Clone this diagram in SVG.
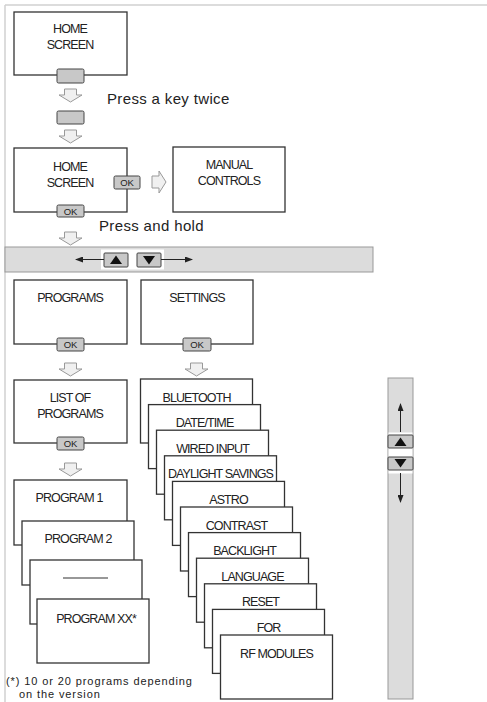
<svg xmlns="http://www.w3.org/2000/svg" width="487" height="702" viewBox="0 0 487 702">
<style>
.box{fill:#fff;stroke:#333;stroke-width:1.3}
.bt{font-family:"Liberation Sans",Arial,sans-serif;font-size:12.5px;letter-spacing:-0.9px;fill:#222;text-anchor:middle}
.body{font-family:"Liberation Sans",Arial,sans-serif;font-size:15px;letter-spacing:0.35px;fill:#222}
.note{font-family:"Liberation Sans",Arial,sans-serif;font-size:11px;letter-spacing:0.9px;fill:#222}
.key{fill:#c8c8c8;stroke:#444;stroke-width:1}
.ok{font-family:"Liberation Sans",Arial,sans-serif;font-size:9.5px;fill:#222;text-anchor:middle}
.arr{fill:#f0f0f0;stroke:#999;stroke-width:1}
.bar{fill:#dcdcdc;stroke:#999;stroke-width:1}
.ln{stroke:#222;stroke-width:1;fill:none}
</style>
<defs>
<path id="dn" d="M-6,0 H6 V6 H11.5 L0,13 L-11.5,6 H-6 Z"/>
<marker id="ah" viewBox="0 0 8 6" refX="7" refY="3" markerWidth="8" markerHeight="6" orient="auto" markerUnits="userSpaceOnUse"><path d="M0,0 L8,3 L0,6 Z" fill="#222"/></marker>
</defs>

<g id="frame">
<line x1="5" y1="5" x2="487" y2="5" stroke="#d0d0d0" stroke-width="1.5"/>
<line x1="5" y1="5" x2="5" y2="702" stroke="#d0d0d0" stroke-width="1.5"/>
</g>

<g id="connectors">
<use href="#dn" class="arr" x="70.5" y="89"/>
<use href="#dn" class="arr" x="70.5" y="130"/>
<use href="#dn" class="arr" x="70.5" y="232"/>
<use href="#dn" class="arr" x="70.5" y="363"/>
<use href="#dn" class="arr" x="196.5" y="363"/>
<use href="#dn" class="arr" x="70.5" y="463"/>
<path class="arr" d="M152,176 H159 V171 L166,182 L159,193 V188 H152 Z"/>
</g>

<g id="home1">
<rect class="box" x="14" y="12" width="113" height="63"/>
<text class="bt" x="70" y="33">HOME</text>
<text class="bt" x="70" y="49">SCREEN</text>
<rect class="key" x="57" y="69" width="27" height="14" rx="1.5"/>
</g>

<g id="key2">
<rect class="key" x="57" y="111" width="27" height="13" rx="1.5"/>
</g>
<text class="body" x="107" y="104">Press a key twice</text>

<g id="home2">
<rect class="box" x="14" y="148" width="113" height="64"/>
<text class="bt" x="70" y="171">HOME</text>
<text class="bt" x="70" y="187">SCREEN</text>
<rect class="key" x="114" y="176" width="26" height="13" rx="1.5"/>
<text class="ok" x="127" y="186">OK</text>
<rect class="key" x="57" y="205" width="27" height="12" rx="1.5"/>
<text class="ok" x="70.5" y="214.5">OK</text>
</g>

<g id="manual">
<rect class="box" x="173" y="147" width="112" height="65"/>
<text class="bt" x="229" y="169">MANUAL</text>
<text class="bt" x="229" y="185">CONTROLS</text>
</g>
<text class="body" x="99" y="231">Press and hold</text>

<g id="hbar">
<rect class="bar" x="5" y="247" width="368" height="25"/>
<rect x="101" y="249.5" width="63" height="20" fill="#fff"/>
<rect class="key" x="104" y="253" width="24" height="14" rx="1"/>
<path d="M110,264 L116,255.5 L122,264 Z" fill="#111"/>
<rect class="key" x="137" y="253" width="24" height="14" rx="1"/>
<path d="M143,256 L149,264.5 L155,256 Z" fill="#111"/>
<line class="ln" x1="104" y1="259.5" x2="76" y2="259.5" marker-end="url(#ah)"/>
<line class="ln" x1="161" y1="259.5" x2="192" y2="259.5" marker-end="url(#ah)"/>
</g>

<g id="programs">
<rect class="box" x="14" y="280" width="113" height="64"/>
<text class="bt" x="70" y="302">PROGRAMS</text>
<rect class="key" x="57" y="338" width="27" height="13" rx="1.5"/>
<text class="ok" x="70.5" y="348">OK</text>
</g>

<g id="settings">
<rect class="box" x="141" y="280" width="112" height="64"/>
<text class="bt" x="197" y="302">SETTINGS</text>
<rect class="key" x="183" y="338" width="28" height="13" rx="1.5"/>
<text class="ok" x="197" y="348">OK</text>
</g>

<g id="list">
<rect class="box" x="14" y="380" width="113" height="63"/>
<text class="bt" x="70" y="402">LIST OF</text>
<text class="bt" x="70" y="418">PROGRAMS</text>
<rect class="key" x="57" y="437" width="27" height="13" rx="1.5"/>
<text class="ok" x="70.5" y="447">OK</text>
</g>

<g id="prog1"><rect class="box" x="14" y="480" width="113" height="65"/><text class="bt" x="69" y="502">PROGRAM 1</text></g>
<g id="prog2"><rect class="box" x="22" y="521" width="112" height="64"/><text class="bt" x="78" y="543">PROGRAM 2</text></g>
<g id="prog3"><rect class="box" x="30" y="560" width="112" height="64"/><line x1="63" y1="578" x2="108" y2="578" stroke="#333" stroke-width="1.2"/></g>
<g id="progxx"><rect class="box" x="37" y="599" width="112" height="64"/><text class="bt" x="96" y="623">PROGRAM XX*</text></g>

<g id="s1"><rect class="box" x="140.5" y="379" width="112" height="64"/><text class="bt" x="196.5" y="401.5">BLUETOOTH</text></g>
<g id="s2"><rect class="box" x="148.5" y="404.6" width="112" height="64"/><text class="bt" x="204.5" y="427.1">DATE/TIME</text></g>
<g id="s3"><rect class="box" x="156.5" y="430.2" width="112" height="64"/><text class="bt" x="212.5" y="452.7">WIRED INPUT</text></g>
<g id="s4"><rect class="box" x="164.5" y="455.8" width="112" height="64"/><text class="bt" x="220.5" y="478.3">DAYLIGHT SAVINGS</text></g>
<g id="s5"><rect class="box" x="172.5" y="481.4" width="112" height="64"/><text class="bt" x="228.5" y="503.9">ASTRO</text></g>
<g id="s6"><rect class="box" x="180.5" y="507" width="112" height="64"/><text class="bt" x="236.5" y="529.5">CONTRAST</text></g>
<g id="s7"><rect class="box" x="188.5" y="532.6" width="112" height="64"/><text class="bt" x="244.5" y="555.1">BACKLIGHT</text></g>
<g id="s8"><rect class="box" x="196.5" y="558.2" width="112" height="64"/><text class="bt" x="252.5" y="580.7">LANGUAGE</text></g>
<g id="s9"><rect class="box" x="204.5" y="583.8" width="112" height="64"/><text class="bt" x="260.5" y="606.3">RESET</text></g>
<g id="s10"><rect class="box" x="212.5" y="609.4" width="112" height="64"/><text class="bt" x="268.5" y="631.9">FOR</text></g>
<g id="s11"><rect class="box" x="220.5" y="635" width="112" height="64"/><text class="bt" x="276.5" y="657.5">RF MODULES</text></g>

<g id="vbar">
<rect class="bar" x="388" y="378" width="25" height="321"/>
<rect x="388.5" y="432.5" width="24" height="41" fill="#fff"/>
<rect class="key" x="388" y="435" width="25" height="13" rx="1"/>
<path d="M394.5,446 L400.5,437.5 L406.5,446 Z" fill="#111"/>
<rect class="key" x="388" y="457" width="25" height="13" rx="1"/>
<path d="M394.5,459 L400.5,467.5 L406.5,459 Z" fill="#111"/>
<line class="ln" x1="400.5" y1="432" x2="400.5" y2="404" marker-end="url(#ah)"/>
<line class="ln" x1="400.5" y1="473" x2="400.5" y2="502" marker-end="url(#ah)"/>
</g>

<text class="note" x="6" y="684.5">(*) 10 or 20 programs depending</text>
<text class="note" x="19" y="697.5">on the version</text>
</svg>
